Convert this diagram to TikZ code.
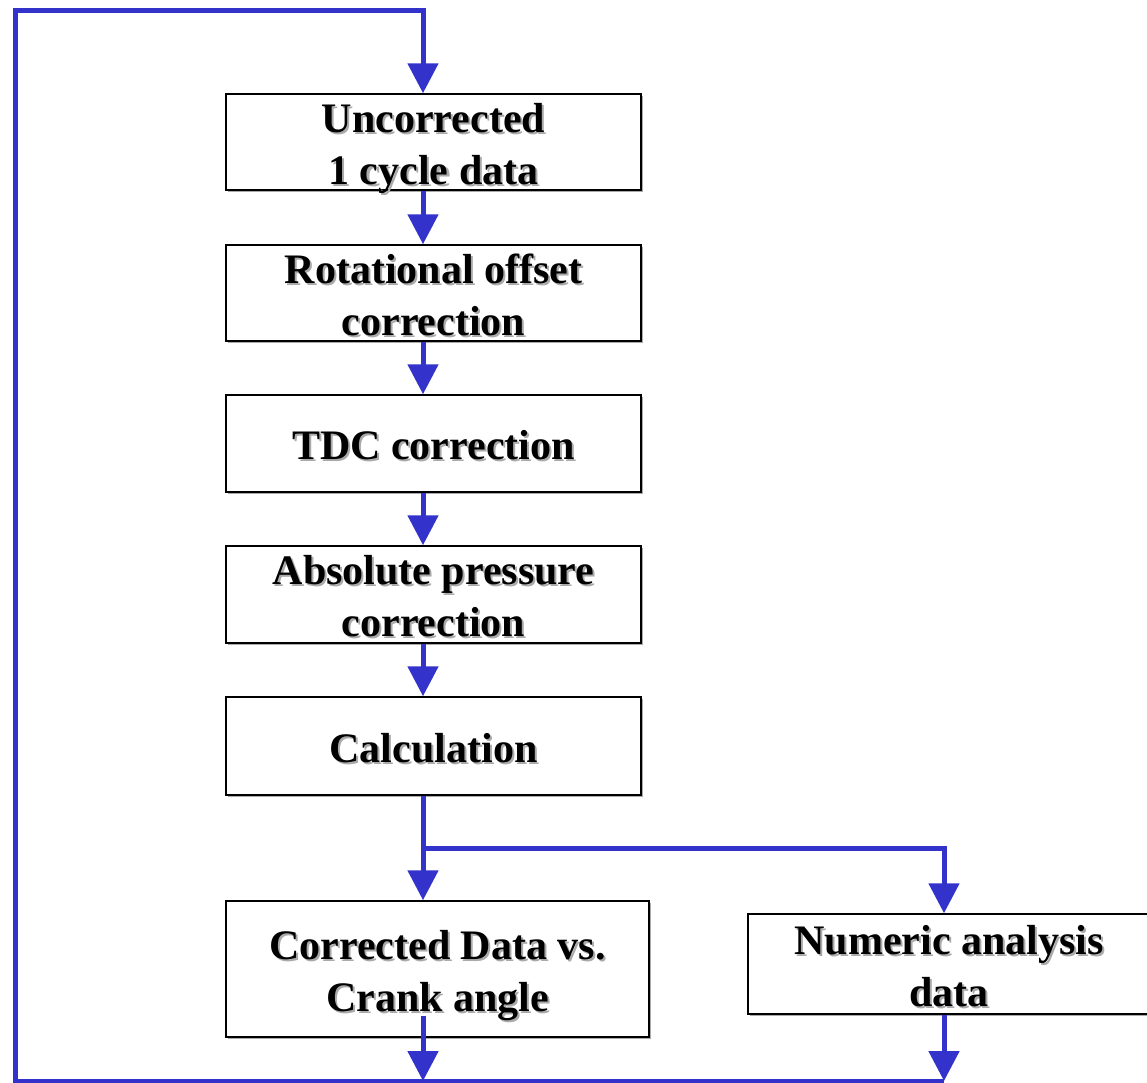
\documentclass[tikz,border=0pt]{standalone}
\usepackage{fontspec}
\setmainfont{Liberation Serif}
\usetikzlibrary{arrows.meta,shadows,calc}

\definecolor{flowblue}{HTML}{3333CC}
\definecolor{shadegray}{HTML}{AAAAAA}

% text with a grey shadow behind it
\newcommand{\shtxt}[1]{\makebox[0pt][l]{\hspace{2pt}\raisebox{-2pt}{\color{shadegray}#1}}#1}

\tikzset{
  stage/.style={draw, fill=white, line width=1.5pt, inner sep=0pt,
    minimum width=415pt, minimum height=96pt, align=center,
    text height=32pt, text depth=0pt,
    font=\fontsize{42}{52}\selectfont\bfseries,
    drop shadow={opacity=1, fill=shadegray, shadow xshift=1.5pt, shadow yshift=-1.5pt}},
  twoline/.style={text height=84pt},
  link/.style={draw=flowblue, line width=5pt},
  flow/.style={link, -{Triangle[length=30pt, width=30pt]}}
}

\begin{document}
\begin{tikzpicture}[x=1pt, y=-1pt]
  \useasboundingbox (0,0) rectangle (1147,1082);
  % stages
  \node[stage, twoline] (raw) at (433.5,142) {\shtxt{Uncorrected}\\\shtxt{1 cycle data}};
  \node[stage, twoline] (rot) at (433.5,293) {\shtxt{Rotational offset}\\\shtxt{correction}};
  \node[stage, minimum height=97pt] (tdc) at (433.5,443.5) {\shtxt{TDC correction}};
  \node[stage, twoline, minimum height=97pt] (abs) at (433.5,594.5) {\shtxt{Absolute pressure}\\\shtxt{correction}};
  \node[stage, minimum height=98pt] (calc) at (433.5,746) {\shtxt{Calculation}};
  \node[stage, twoline, minimum width=423pt, minimum height=136pt] (corr) at (437.5,969) {\shtxt{Corrected Data vs.}\\\shtxt{Crank angle}};
  \node[stage, twoline, minimum width=402pt, minimum height=100pt] (num) at (949,964) {\shtxt{Numeric analysis}\\\shtxt{data}};
  % helper points
  \coordinate (split) at (423,848);
  \coordinate (btm) at (15,1081);
  \coordinate (top) at (15,10);
  % main flow
  \draw[flow] ([xshift=-10.5pt]raw.south) -- ([xshift=-10.5pt]rot.north);
  \draw[flow] ([xshift=-10.5pt]rot.south) -- ([xshift=-10.5pt]tdc.north);
  \draw[flow] ([xshift=-10.5pt]tdc.south) -- ([xshift=-10.5pt]abs.north);
  \draw[flow] ([xshift=-10.5pt]abs.south) -- ([xshift=-10.5pt]calc.north);
  % branch
  \draw[link] ([xshift=-10.5pt]calc.south) -- (split);
  \draw[flow] (split) -- ([xshift=-14.5pt]corr.north);
  \draw[flow] (split) -| ([xshift=-5pt]num.north);
  % back to the start
  \draw[flow] ([shift={(-14.5pt,22pt)}]corr.south) -- ([xshift=-14.5pt]corr.south |- btm);
  \draw[flow] ([xshift=-5pt]num.south) -- ([xshift=-5pt]num.south |- btm);
  \draw[flow] ([xshift=-5pt]num.south |- btm) -- (btm) -- (top) -| ([xshift=-10.5pt]raw.north);
\end{tikzpicture}
\end{document}
